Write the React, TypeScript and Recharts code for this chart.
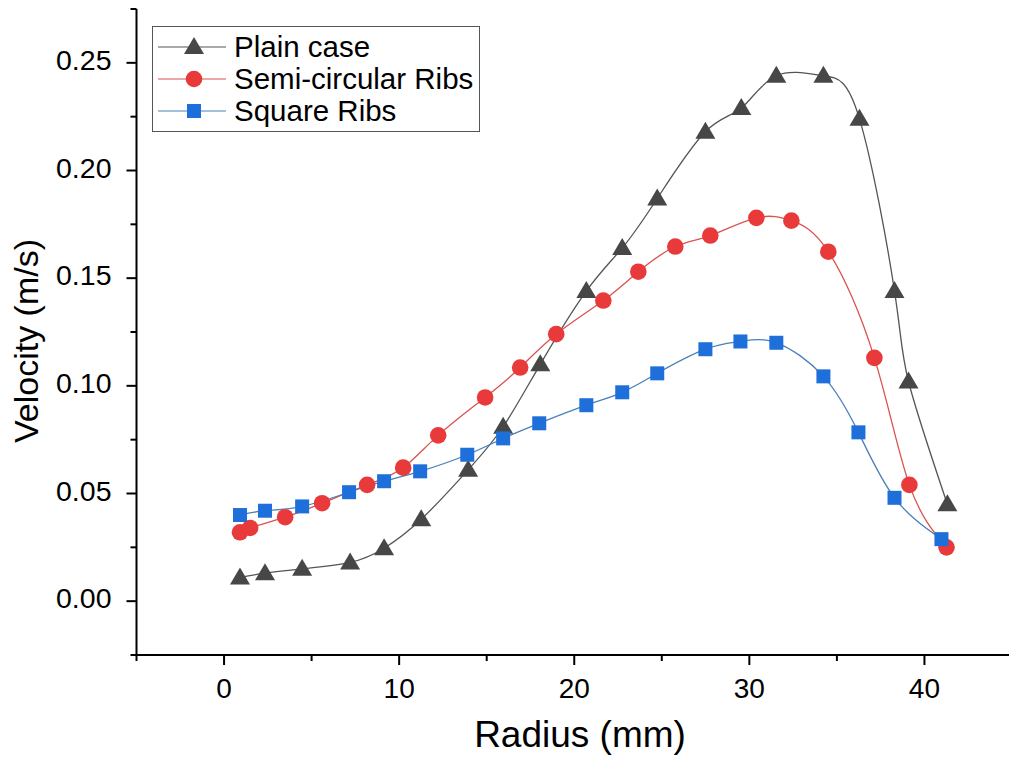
import React from 'react';
import { LineChart, Line, XAxis, YAxis } from 'recharts';

// Plain case (triangles)
const plainX = [0.91, 2.34, 4.46, 7.2, 9.14, 11.26, 13.94, 15.94, 18.06, 20.69, 22.74, 24.74, 27.49, 29.54, 31.54, 34.23, 36.29, 38.29, 39.09, 41.31];
const plainY = [0.011, 0.013, 0.015, 0.018, 0.0246, 0.038, 0.061, 0.081, 0.11, 0.144, 0.164, 0.187, 0.218, 0.229, 0.244, 0.244, 0.224, 0.144, 0.102, 0.045];

// Semi-circular ribs (circles)
const semiX = [0.91, 1.49, 3.49, 5.6, 8.17, 10.23, 12.23, 14.91, 16.91, 18.97, 21.66, 23.66, 25.77, 27.77, 30.4, 32.4, 34.51, 37.14, 39.14, 41.26];
const semiY = [0.032, 0.034, 0.039, 0.0455, 0.054, 0.062, 0.077, 0.0946, 0.1085, 0.124, 0.1396, 0.153, 0.1647, 0.1698, 0.178, 0.1767, 0.1623, 0.113, 0.054, 0.025];

// Square ribs (squares)
const squareX = [0.91, 2.34, 4.46, 7.14, 9.14, 11.2, 13.89, 15.94, 18.0, 20.69, 22.74, 24.74, 27.49, 29.49, 31.54, 34.23, 36.23, 38.29, 40.97];
const squareY = [0.04, 0.042, 0.044, 0.0506, 0.0557, 0.0603, 0.068, 0.0756, 0.0826, 0.091, 0.097, 0.1058, 0.117, 0.1206, 0.12, 0.1044, 0.0784, 0.048, 0.0288];

const xTicks = [-5, 0, 5, 10, 15, 20, 25, 30, 35, 40, 45];
const yTicks = [-0.025, 0, 0.025, 0.05, 0.075, 0.1, 0.125, 0.15, 0.175, 0.2, 0.225, 0.25, 0.275];

const legendItems = [
  { name: 'Plain case', shape: 'triangle', color: '#474747', line: '#555555' },
  { name: 'Semi-circular Ribs', shape: 'circle', color: '#e8393b', line: '#d9534f' },
  { name: 'Square Ribs', shape: 'square', color: '#1e6fd9', line: '#4a80b8' },
];

const toData = (xs: number[], ys: number[]) => xs.map((x, i) => ({ x, y: ys[i] }));
const plainData = toData(plainX, plainY);
const semiData = toData(semiX, semiY);
const squareData = toData(squareX, squareY);

const FONT = '"Liberation Sans", Arial, sans-serif';

const Marker = ({ shape, cx, cy, color }: any) => {
  if (shape === 'triangle') {
    return <polygon points={`${cx},${cy - 10} ${cx - 10},${cy + 7} ${cx + 10},${cy + 7}`} fill={color} />;
  }
  if (shape === 'circle') {
    return <circle cx={cx} cy={cy} r={8.3} fill={color} />;
  }
  return <rect x={cx - 7} y={cy - 7} width={14} height={14} fill={color} />;
};

const makeDot = (shape: string, color: string) => (props: any) => {
  const { cx, cy, index } = props;
  return <Marker key={`${shape}-${index}`} shape={shape} cx={cx} cy={cy} color={color} />;
};

const XTick = (props: any) => {
  const { x, y, payload } = props;
  const major = payload.value % 10 === 0;
  return (
    <g>
      <line x1={x} x2={x} y1={y} y2={y + (major ? 10 : 6)} stroke="#000" strokeWidth={2} />
      {major && (
        <text x={x} y={y + 43} textAnchor="middle" fontSize={28} fontFamily={FONT} fill="#000">
          {payload.value}
        </text>
      )}
    </g>
  );
};

const YTick = (props: any) => {
  const { x, y, payload } = props;
  const major = Math.round(payload.value * 1000) % 50 === 0;
  return (
    <g>
      <line x1={x - (major ? 10 : 6)} x2={x} y1={y} y2={y} stroke="#000" strokeWidth={2} />
      {major && (
        <text x={x - 25} y={y + 7} textAnchor="end" fontSize={28.5} fontFamily={FONT} fill="#000">
          {payload.value.toFixed(2)}
        </text>
      )}
    </g>
  );
};

const LegendBox = () => (
  <div
    style={{
      position: 'absolute',
      left: 152,
      top: 26,
      width: 328,
      height: 106,
      border: '1.5px solid #555',
      background: '#fff',
      boxSizing: 'border-box',
    }}
  >
    <svg width={328} height={106}>
      {legendItems.map((item, i) => {
        const cy = 20 + i * 32;
        return (
          <g key={item.name}>
            <line x1={5} x2={73} y1={cy} y2={cy} stroke={item.line} strokeWidth={1.2} />
            <Marker shape={item.shape} cx={41} cy={cy} color={item.color} />
            <text x={81} y={cy + 10} fontSize={29.5} fontFamily={FONT} fill="#000">
              {item.name}
            </text>
          </g>
        );
      })}
    </svg>
  </div>
);

export default function App() {
  return (
    <div
      style={{
        position: 'absolute',
        left: 0,
        top: 0,
        width: 1009,
        height: 758,
        overflow: 'hidden',
        background: '#fff',
      }}
    >
      <LineChart width={1012} height={758} margin={{ top: 9, right: 0, left: 0, bottom: 0 }}>
        <XAxis
          dataKey="x"
          type="number"
          domain={[-5, 45]}
          ticks={xTicks}
          interval={0}
          allowDataOverflow
          height={103}
          tickSize={0}
          tickMargin={0}
          tickLine={false}
          tick={<XTick />}
          axisLine={{ stroke: '#000', strokeWidth: 2 }}
          label={{
            content: () => (
              <text x={580} y={747} textAnchor="middle" fontSize={37} fontFamily={FONT} fill="#000">
                Radius (mm)
              </text>
            ),
          }}
        />
        <YAxis
          dataKey="y"
          type="number"
          domain={[-0.025, 0.275]}
          ticks={yTicks}
          interval={0}
          allowDataOverflow
          width={136.5}
          tickSize={0}
          tickMargin={0}
          tickLine={false}
          tick={<YTick />}
          axisLine={{ stroke: '#000', strokeWidth: 2 }}
          label={{
            content: () => (
              <text
                x={26}
                y={341}
                transform="rotate(-90 26 341)"
                textAnchor="middle"
                dominantBaseline="central"
                fontSize={34}
                fontFamily={FONT}
                fill="#000"
              >
                Velocity (m/s)
              </text>
            ),
          }}
        />
        <Line
          data={plainData}
          dataKey="y"
          type="natural"
          stroke="#555555"
          strokeWidth={1.3}
          dot={makeDot('triangle', '#474747')}
          activeDot={false}
          isAnimationActive={false}
        />
        <Line
          data={semiData}
          dataKey="y"
          type="natural"
          stroke="#d9534f"
          strokeWidth={1.3}
          dot={makeDot('circle', '#e8393b')}
          activeDot={false}
          isAnimationActive={false}
        />
        <Line
          data={squareData}
          dataKey="y"
          type="natural"
          stroke="#4a80b8"
          strokeWidth={1.3}
          dot={makeDot('square', '#1e6fd9')}
          activeDot={false}
          isAnimationActive={false}
        />
      </LineChart>
      <LegendBox />
    </div>
  );
}
